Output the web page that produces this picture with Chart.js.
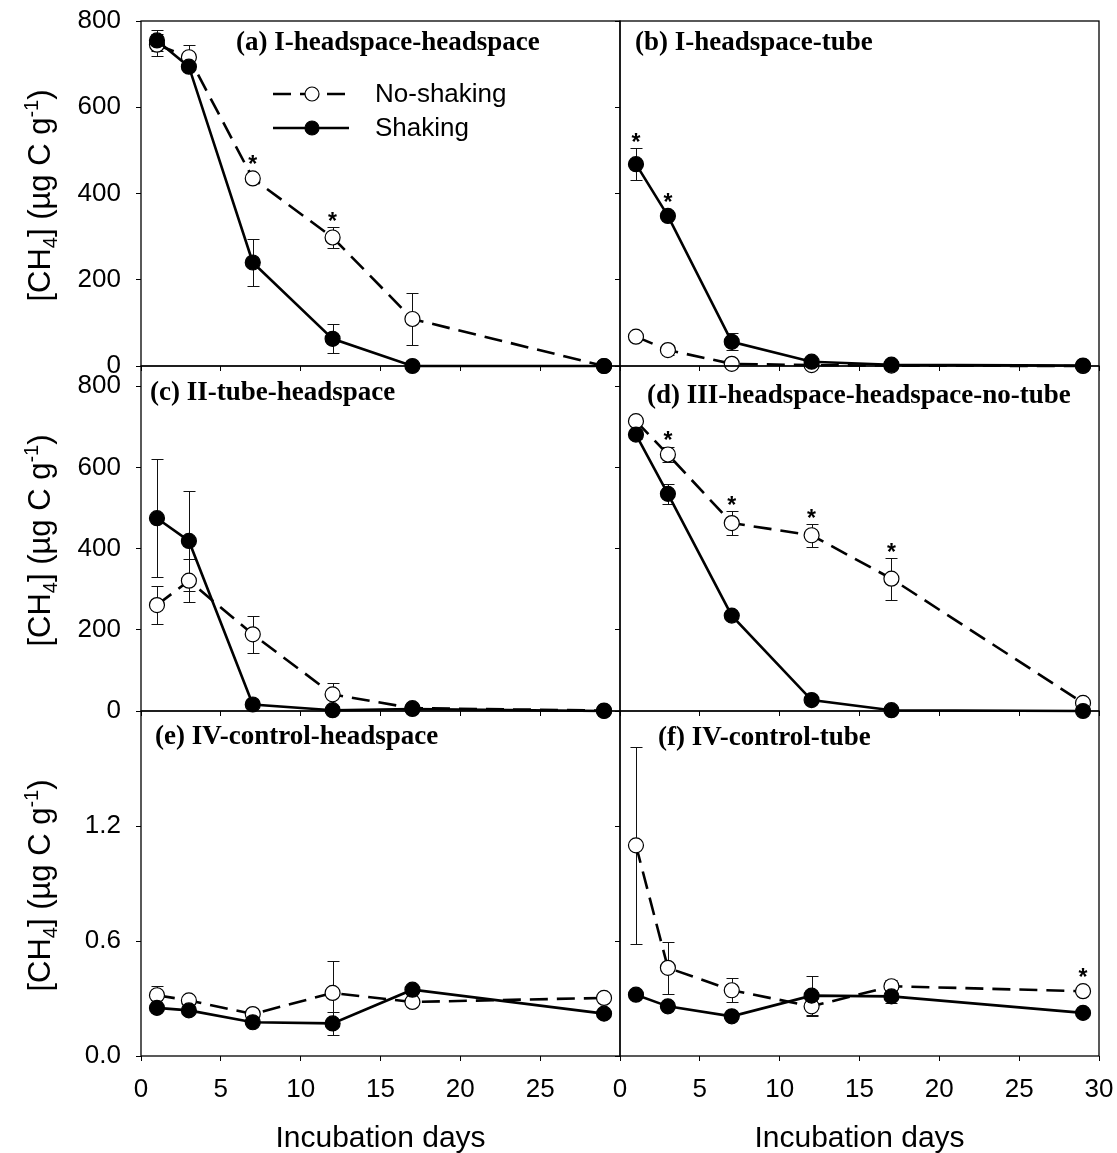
<!DOCTYPE html>
<html>
<head>
<meta charset="utf-8">
<script src="https://cdn.jsdelivr.net/npm/chart.js@4.4.1/dist/chart.umd.min.js"></script>
<style>
  body { margin: 0; background: #fff; }
  #wrap { position: relative; width: 1117px; height: 1153px; }
  #wrap canvas { position: absolute; left: 0; top: 0; }
</style>
</head>
<body>
<div id="wrap">
  <canvas id="pa" width="1117" height="1153"></canvas>
  <canvas id="pb" width="1117" height="1153"></canvas>
  <canvas id="pc" width="1117" height="1153"></canvas>
  <canvas id="pd" width="1117" height="1153"></canvas>
  <canvas id="pe" width="1117" height="1153"></canvas>
  <canvas id="pf" width="1117" height="1153"></canvas>
</div>
<script>
const days = [1, 3, 7, 12, 17, 29];
const xTicks = [0, 5, 10, 15, 20, 25, 30];
const yTicksMain = [0, 200, 400, 600, 800];
const yTicksControl = [0, 0.6, 1.2];
const seriesNames = ['No-shaking', 'Shaking'];

// (a) I-headspace-headspace
const aNoShaking = [745, 716, 435, 298, 109, 0];
const aNoShakingErr = [26, 28, 8, 25, 61, 0];
const aShaking = [755, 694, 240, 63, 0, 0];
const aShakingErr = [24, 0, 54, 34, 0, 0];
const aStarsNoShaking = [7, 12];
const aStarsShaking = [];

// (b) I-headspace-tube
const bNoShaking = [68, 37, 5, 2, 1, 0];
const bNoShakingErr = [5, 12, 3, 0, 0, 0];
const bShaking = [468, 348, 56, 10, 3, 1];
const bShakingErr = [37, 8, 20, 5, 0, 0];
const bStarsNoShaking = [];
const bStarsShaking = [1, 3];

// (c) II-tube-headspace
const cNoShaking = [261, 321, 189, 41, 7, 1];
const cNoShakingErr = [47, 53, 46, 28, 0, 0];
const cShaking = [475, 419, 16, 2, 5, 0];
const cShakingErr = [145, 124, 0, 0, 0, 0];
const cStarsNoShaking = [];
const cStarsShaking = [];

// (d) III-headspace-headspace-no-tube
const dNoShaking = [714, 632, 463, 433, 326, 20];
const dNoShakingErr = [5, 18, 29, 28, 52, 0];
const dShaking = [681, 535, 235, 27, 2, 0];
const dShakingErr = [10, 25, 0, 0, 0, 0];
const dStarsNoShaking = [3, 7, 12, 17];
const dStarsShaking = [];

// (e) IV-control-headspace
const eNoShaking = [0.317, 0.29, 0.219, 0.329, 0.282, 0.303];
const eNoShakingErr = [0.05, 0.02, 0.01, 0.165, 0.01, 0.01];
const eShaking = [0.251, 0.238, 0.176, 0.17, 0.346, 0.221];
const eShakingErr = [0.01, 0.01, 0.01, 0.058, 0.01, 0.01];
const eStarsNoShaking = [];
const eStarsShaking = [];

// (f) IV-control-tube
const fNoShaking = [1.099, 0.46, 0.343, 0.259, 0.364, 0.338];
const fNoShakingErr = [0.515, 0.136, 0.063, 0.05, 0.03, 0.01];
const fShaking = [0.32, 0.259, 0.207, 0.315, 0.311, 0.225];
const fShakingErr = [0.01, 0.01, 0.01, 0.1, 0.035, 0.01];
const fStarsNoShaking = [29];
const fStarsShaking = [];

const W = 1117, H = 1153;
const cols = [[141, 620], [620, 1099]];
const rows = [[21, 366], [366, 711], [711, 1056]];
const rowMax = [800, 850, 1.8];

const panels = [
  { id: 'pa', col: 0, row: 0, title: '(a) I-headspace-headspace', tx: 95, ty: 29,
    ns: aNoShaking, nsErr: aNoShakingErr, sh: aShaking, shErr: aShakingErr,
    nsStars: aStarsNoShaking, shStars: aStarsShaking, legend: true },
  { id: 'pb', col: 1, row: 0, title: '(b) I-headspace-tube', tx: 15, ty: 29,
    ns: bNoShaking, nsErr: bNoShakingErr, sh: bShaking, shErr: bShakingErr,
    nsStars: bStarsNoShaking, shStars: bStarsShaking },
  { id: 'pc', col: 0, row: 1, title: '(c) II-tube-headspace', tx: 9, ty: 34,
    ns: cNoShaking, nsErr: cNoShakingErr, sh: cShaking, shErr: cShakingErr,
    nsStars: cStarsNoShaking, shStars: cStarsShaking },
  { id: 'pd', col: 1, row: 1, title: '(d) III-headspace-headspace-no-tube', tx: 27, ty: 37,
    ns: dNoShaking, nsErr: dNoShakingErr, sh: dShaking, shErr: dShakingErr,
    nsStars: dStarsNoShaking, shStars: dStarsShaking },
  { id: 'pe', col: 0, row: 2, title: '(e) IV-control-headspace', tx: 14, ty: 33,
    ns: eNoShaking, nsErr: eNoShakingErr, sh: eShaking, shErr: eShakingErr,
    nsStars: eStarsNoShaking, shStars: eStarsShaking },
  { id: 'pf', col: 1, row: 2, title: '(f) IV-control-tube', tx: 38, ty: 34,
    ns: fNoShaking, nsErr: fNoShakingErr, sh: fShaking, shErr: fShakingErr,
    nsStars: fStarsNoShaking, shStars: fStarsShaking }
];

const SANS = '"Liberation Sans", Arial, sans-serif';
const SERIF = '"Liberation Serif", "Times New Roman", serif';

// error bars under the markers
const errorBars = {
  id: 'errorBars',
  beforeDatasetsDraw(chart) {
    const { ctx, scales: { x, y } } = chart;
    ctx.save();
    ctx.strokeStyle = '#111';
    ctx.lineWidth = 1;
    chart.data.datasets.forEach(ds => {
      ds.data.forEach((p, i) => {
        const e = ds.errors[i];
        if (!e) return;
        const px = Math.round(x.getPixelForValue(p.x)) + 0.5;
        const y1 = Math.round(y.getPixelForValue(p.y + e)) + 0.5;
        const y2 = Math.round(y.getPixelForValue(Math.max(p.y - e, 0))) + 0.5;
        ctx.beginPath();
        ctx.moveTo(px, y1); ctx.lineTo(px, y2);
        ctx.moveTo(px - 6, y1); ctx.lineTo(px + 6, y1);
        ctx.moveTo(px - 6, y2); ctx.lineTo(px + 6, y2);
        ctx.stroke();
      });
    });
    ctx.restore();
  }
};

function drawRich(ctx, parts, big, small) {
  let total = 0;
  parts.forEach(p => {
    ctx.font = (p[1] ? small : big) + 'px ' + SANS;
    p.w = ctx.measureText(p[0]).width;
    total += p.w;
  });
  let x = -total / 2;
  parts.forEach(p => {
    ctx.font = (p[1] ? small : big) + 'px ' + SANS;
    const dy = p[1] === 'sub' ? 7 : p[1] === 'sup' ? -12 : 0;
    ctx.fillText(p[0], x, dy);
    x += p.w;
  });
}

const decor = {
  id: 'decor',
  afterDatasetsDraw(chart, args, opts) {
    const { ctx, chartArea: a, scales: { x, y } } = chart;
    ctx.save();
    ctx.fillStyle = '#000';
    ctx.strokeStyle = '#000';

    // significance stars
    ctx.font = 'bold 23px ' + SANS;
    ctx.textAlign = 'center';
    ctx.textBaseline = 'alphabetic';
    chart.data.datasets.forEach(ds => {
      ds.stars.forEach(d => {
        const i = days.indexOf(d);
        const p = ds.data[i];
        const px = x.getPixelForValue(p.x);
        const top = Math.min(y.getPixelForValue(p.y + ds.errors[i]), y.getPixelForValue(p.y) - 8);
        ctx.fillText('*', px, top + 2);
      });
    });

    // frame
    ctx.lineWidth = 1.3;
    ctx.strokeRect(a.left, a.top, a.right - a.left, a.bottom - a.top);

    // panel title
    ctx.font = 'bold 27px ' + SERIF;
    ctx.textAlign = 'left';
    ctx.fillText(opts.title, a.left + opts.tx, a.top + opts.ty);

    // y axis title
    if (opts.yTitle) {
      ctx.save();
      ctx.translate(50, (a.top + a.bottom) / 2 + 2);
      ctx.rotate(-Math.PI / 2);
      ctx.textAlign = 'left';
      drawRich(ctx, [['[CH'], ['4', 'sub'], ['] (\u00b5g C g'], ['-1', 'sup'], [')']], 31, 20);
      ctx.restore();
    }

    // x axis title
    if (opts.xTitle) {
      ctx.font = '30px ' + SANS;
      ctx.textAlign = 'center';
      ctx.fillText('Incubation days', (a.left + a.right) / 2, 1147);
    }

    // legend
    if (opts.legend) {
      const dsets = chart.data.datasets;
      const items = [dsets[1], dsets[0]];
      items.forEach((ds, k) => {
        const ly = a.top + 73 + k * 34;
        ctx.lineWidth = ds.borderWidth;
        ctx.setLineDash(ds.borderDash || []);
        ctx.beginPath();
        ctx.moveTo(a.left + 132, ly);
        ctx.lineTo(a.left + 208, ly);
        ctx.stroke();
        ctx.setLineDash([]);
        ctx.beginPath();
        ctx.arc(a.left + 171, ly, 7, 0, Math.PI * 2);
        ctx.fillStyle = ds.pointBackgroundColor;
        ctx.fill();
        ctx.lineWidth = 1.2;
        ctx.stroke();
        ctx.fillStyle = '#000';
        ctx.font = '26px ' + SANS;
        ctx.textAlign = 'left';
        ctx.textBaseline = 'middle';
        ctx.fillText(ds.label, a.left + 234, ly + 1);
        ctx.textBaseline = 'alphabetic';
      });
    }
    ctx.restore();
  }
};

function points(vals) {
  return days.map((d, i) => ({ x: d, y: vals[i] }));
}

function noPad(s) {
  s.paddingTop = 0; s.paddingBottom = 0; s.paddingLeft = 0; s.paddingRight = 0;
}

const X_BOX = 60;

panels.forEach(p => {
  const [l, r] = cols[p.col];
  const [t, b] = rows[p.row];
  const bottomRow = p.row === 2;
  const leftCol = p.col === 0;
  const yBox = leftCol ? l : 20;
  const yTicks = bottomRow ? yTicksControl : yTicksMain;
  const tickGrid = { display: true, drawOnChartArea: false, drawTicks: true, tickLength: 5, color: '#000', lineWidth: 1 };

  new Chart(document.getElementById(p.id), {
    type: 'line',
    data: {
      datasets: [
        {
          label: seriesNames[1],
          data: points(p.sh),
          errors: p.shErr,
          stars: p.shStars,
          borderColor: '#000',
          borderWidth: 2.6,
          pointRadius: 7.5,
          pointBorderWidth: 1.2,
          pointBorderColor: '#000',
          pointBackgroundColor: '#000',
          tension: 0,
          clip: false
        },
        {
          label: seriesNames[0],
          data: points(p.ns),
          errors: p.nsErr,
          stars: p.nsStars,
          borderColor: '#000',
          borderWidth: 2.6,
          borderDash: [18, 9],
          pointRadius: 7.5,
          pointBorderWidth: 1.2,
          pointBorderColor: '#000',
          pointBackgroundColor: '#fff',
          tension: 0,
          clip: false
        }
      ]
    },
    options: {
      responsive: false,
      animation: false,
      devicePixelRatio: 1,
      layout: { padding: { left: l - yBox, right: W - r, top: t, bottom: H - b - X_BOX } },
      plugins: {
        legend: { display: false },
        tooltip: { enabled: false },
        decor: { title: p.title, tx: p.tx, ty: p.ty, yTitle: leftCol, xTitle: bottomRow, legend: !!p.legend }
      },
      scales: {
        x: {
          type: 'linear',
          min: 0,
          max: 30,
          afterFit(s) { s.height = X_BOX; noPad(s); },
          afterBuildTicks(s) { s.ticks = xTicks.map(v => ({ value: v })); },
          grid: tickGrid,
          border: { display: false },
          ticks: {
            display: bottomRow,
            autoSkip: false,
            maxRotation: 0,
            minRotation: 0,
            padding: 13,
            color: '#000',
            font: { family: SANS, size: 26 },
            callback: v => (leftCol && v === 30) ? '' : String(v)
          }
        },
        y: {
          type: 'linear',
          min: 0,
          max: rowMax[p.row],
          afterFit(s) { s.width = yBox; noPad(s); },
          afterBuildTicks(s) { s.ticks = yTicks.map(v => ({ value: v })); },
          grid: tickGrid,
          border: { display: false },
          ticks: {
            display: leftCol,
            autoSkip: false,
            padding: 15,
            color: '#000',
            font: { family: SANS, size: 26 },
            callback: v => bottomRow ? v.toFixed(1) : String(v)
          }
        }
      }
    },
    plugins: [errorBars, decor]
  });
});
</script>
</body>
</html>
